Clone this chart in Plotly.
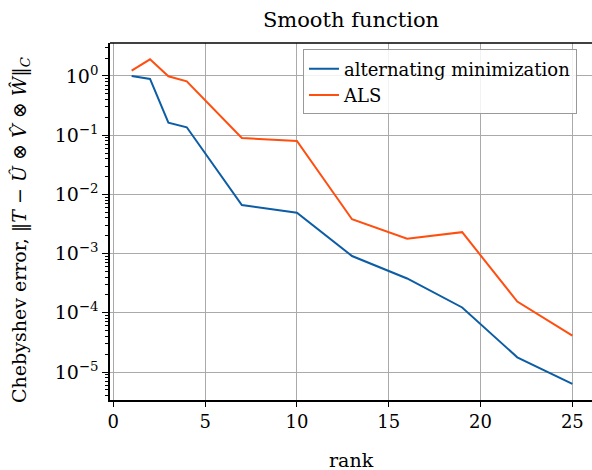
import plotly.graph_objects as go

rank = [1, 2, 3, 4, 7, 10, 13, 16, 19, 22, 25]
alt_min = [1.0, 0.89, 0.163, 0.136, 0.0066, 0.0049, 0.00091, 0.00038, 0.000123, 1.77e-5, 6.3e-6]
als = [1.23, 1.91, 0.99, 0.81, 0.0897, 0.080, 0.0038, 0.00178, 0.0023, 0.000155, 4.1e-5]

title = "Smooth function"
xlabel = "rank"
ylabel = "Chebyshev error, ‖<i>T</i> − <i>Û</i> ⊗ <i>V̂</i> ⊗ <i>Ŵ</i>‖<sub><i>C</i></sub>"
names = ["alternating minimization", "ALS"]
x_ticks = [0, 5, 10, 15, 20, 25]
y_ticks = [1, 1e-1, 1e-2, 1e-3, 1e-4, 1e-5]
y_ticktext = ["10<sup>0</sup>", "10<sup>−1</sup>", "10<sup>−2</sup>", "10<sup>−3</sup>",
              "10<sup>−4</sup>", "10<sup>−5</sup>"]

FONT = "DejaVu Serif"
fig = go.Figure()
fig.add_trace(go.Scatter(x=rank, y=alt_min, mode="lines", name=names[0],
                         line=dict(color="#0C5DA5", width=2)))
fig.add_trace(go.Scatter(x=rank, y=als, mode="lines", name=names[1],
                         line=dict(color="#FF4E0E", width=2)))

fig.update_layout(
    width=592, height=470,
    margin=dict(l=110, r=0, t=43, b=70, autoexpand=False),
    paper_bgcolor="white", plot_bgcolor="white",
    font=dict(family=FONT, size=18, color="black"),
    title=dict(text=title, x=0.5, xanchor="center", xref="paper", y=1 - 20/470, yanchor="middle",
               font=dict(size=21)),
    legend=dict(x=(303 - 110) / 482, xanchor="left", y=0.982, yanchor="top",
                bgcolor="rgba(255,255,255,0.85)", bordercolor="#999999", borderwidth=1,
                font=dict(size=18), tracegroupgap=0, itemwidth=30),
    showlegend=True,
)
fig.update_xaxes(
    range=[-0.18, 26.07], tickvals=x_ticks, ticks="outside", ticklen=5, tickcolor="black",
    showline=True, linecolor="black", linewidth=1.5, mirror=False, automargin=False,
    showgrid=True, gridcolor="#aaaaaa", gridwidth=1.2, zeroline=False,
    tickfont=dict(size=18),
)
fig.update_yaxes(
    type="log", range=[-5.473, 0.557], tickvals=y_ticks, ticktext=y_ticktext,
    ticks="outside", ticklen=6, tickcolor="black", automargin=False,
    minor=dict(ticks="outside", ticklen=3, tickcolor="black", dtick="D1", showgrid=False),
    showline=True, linecolor="black", linewidth=1.5,
    showgrid=True, gridcolor="#aaaaaa", gridwidth=1.2, zeroline=False,
    tickfont=dict(size=19),
)
fig.add_shape(type="line", xref="paper", yref="paper", x0=0, x1=1, y0=1, y1=1,
              line=dict(color="black", width=1.5))
fig.add_annotation(text=xlabel, xref="paper", yref="paper", x=0.5, y=-(460 - 400) / 357,
                   xanchor="center", yanchor="middle", showarrow=False, font=dict(size=19))
fig.add_annotation(text=ylabel, xref="paper", yref="paper", x=-(110 - 20) / 482, y=(400 - 230) / 357,
                   xanchor="center", yanchor="middle", textangle=-90, showarrow=False,
                   font=dict(size=19))
fig.write_html("out.html", config={"displayModeBar": False},
               post_script="document.body.style.margin='0';")
